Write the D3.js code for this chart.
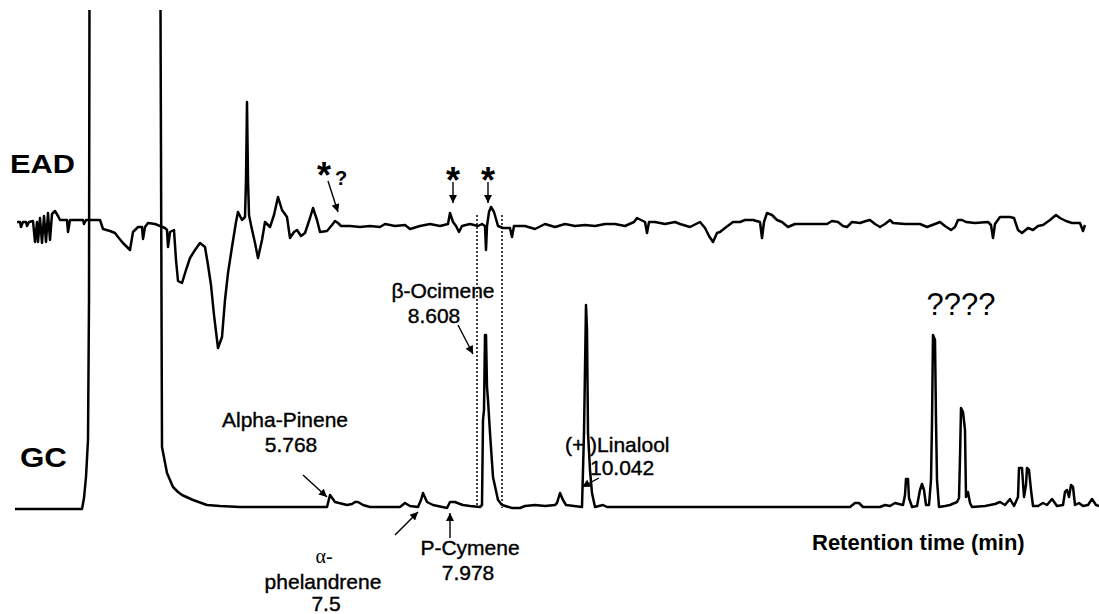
<!DOCTYPE html>
<html>
<head>
<meta charset="utf-8">
<script src="https://cdn.jsdelivr.net/npm/d3@7"></script>
<style>
  html, body { margin: 0; padding: 0; background: #fff; }
  svg { display: block; }
  text { font-family: "Liberation Sans", Arial, sans-serif; fill: #000; }
</style>
</head>
<body>
<svg id="chart" width="1099" height="614"></svg>
<script>
// EAD trace: time (s, arbitrary run offset) and antennal response (uV)
const eadTime = [5, 8, 9, 11, 14, 15, 17, 21, 23, 25, 26, 28, 30, 32, 34, 36, 38, 40, 43, 46, 48, 55, 56, 58, 71, 72, 74, 88, 91, 98, 103, 106, 111, 116, 118, 121, 126, 130, 131, 133, 136, 143, 148, 153, 155, 156, 158, 162, 164, 166, 170, 174, 178, 183, 188, 193, 196, 199, 202, 206, 210, 213, 216, 220, 224, 226, 230, 233, 234, 235, 236, 237, 239, 243, 246, 250, 253, 258, 262, 266, 270, 275, 278, 282, 285, 289, 293, 298, 301, 305, 308, 315, 320, 323, 326, 329, 338, 348, 358, 368, 373, 383, 393, 398, 408, 418, 428, 436, 438, 441, 444, 447, 450, 458, 466, 470, 473, 474, 475, 477, 479, 482, 486, 491, 498, 500, 502, 513, 523, 533, 543, 553, 563, 573, 583, 593, 603, 613, 622, 625, 629, 633, 635, 637, 643, 653, 663, 668, 678, 688, 693, 697, 701, 705, 708, 713, 721, 728, 733, 741, 748, 750, 752, 755, 760, 765, 770, 776, 783, 795, 803, 815, 820, 826, 831, 835, 840, 848, 854, 858, 863, 868, 873, 878, 881, 893, 908, 915, 923, 928, 933, 939, 943, 946, 950, 954, 963, 976, 979, 981, 983, 988, 998, 1002, 1006, 1010, 1016, 1021, 1026, 1031, 1038, 1044, 1048, 1054, 1060, 1068, 1071, 1073];
const eadSignal = [20, 20, -30, 20, 20, -20, 20, 30, -180, 20, -180, 60, -190, 80, -180, 110, -160, 100, 130, 80, 40, 40, -80, 40, 40, 0, 40, 40, -50, -70, -90, -130, -190, -240, -260, -80, -30, -30, -150, -30, 10, 0, -20, -40, -60, -230, -80, -60, -360, -570, -590, -460, -340, -260, -190, -230, -410, -610, -910, -1240, -1130, -760, -490, -230, 20, 120, 40, 70, 440, 1220, 440, 90, -10, -190, -340, -160, 20, -30, 90, 270, 140, 70, -140, -80, -60, -120, -90, 60, 160, 40, -80, -70, -10, 30, 10, -20, -20, -30, -20, -30, 0, -20, -10, -50, -20, 0, -20, 0, 110, 20, -20, -80, -20, 0, -20, 0, -20, -260, -20, 120, 170, 120, -20, -40, -40, -130, -20, -20, -50, 0, -30, 0, -20, -10, -20, 0, 0, -20, 20, 60, 40, 20, -90, 20, 20, 0, 20, 0, -30, 20, -40, -120, -180, -90, -80, -40, 20, 20, 40, 40, 20, -140, 20, 110, 90, 40, 20, -30, 0, 0, 0, 0, 30, 20, -20, -30, 20, 10, 30, 40, 0, -30, 0, 40, 10, 0, 0, -30, 0, 20, -20, -60, -30, 40, 40, 20, 10, 20, -10, -140, 0, 70, 70, 60, -60, -90, -40, -60, -20, -10, 40, 90, 60, 30, 10, 10, -70, -10];

// GC (FID) trace: time (s) and detector signal (arbitrary units)
const gcTime = [3, 70, 72, 74, 76, 77, 77.5, 78, 148, 148.5, 150, 155, 158, 161, 166, 170, 181, 195, 208, 228, 315, 318, 323, 335, 340, 343, 346, 351, 358, 388, 393, 398, 406, 409, 411, 415, 421, 435, 438, 443, 448, 451, 458, 468, 470, 471, 472, 473, 474, 475, 476, 478, 481, 486, 490, 500, 508, 513, 523, 533, 543, 545, 548, 551, 554, 570, 572, 574, 575, 576, 578, 580, 583, 591, 595, 838, 843, 847, 851, 868, 873, 878, 883, 891, 893, 894, 896, 897, 900, 905, 908, 910, 912, 914, 917, 919, 920, 921, 923, 924, 925, 927, 933, 938, 945, 947, 948, 949, 951, 953, 954, 956, 958, 960, 973, 983, 988, 993, 998, 1002, 1006, 1007, 1010, 1012, 1014, 1015, 1017, 1019, 1021, 1026, 1031, 1035, 1040, 1045, 1051, 1053, 1055, 1057, 1059, 1061, 1063, 1067, 1071, 1076, 1080, 1084, 1087];
const gcSignal = [0, 0, 11, 32, 69, 209, 520, 700, 700, 499, 62, 36, 29, 22, 17, 14, 9, 4, 3, 2, 2, 14, 7, 4, 5, 7, 7, 4, 2, 2, 6, 3, 2, 9, 16, 7, 4, 1, 7, 7, 5, 4, 3, 2, 4, 89, 99, 174, 174, 122, 109, 76, 32, 9, 4, 1, 1, 3, 4, 3, 4, 6, 16, 9, 4, 2, 76, 204, 179, 76, 39, 16, 2, 4, 2, 2, 6, 6, 2, 2, 4, 3, 6, 4, 14, 30, 30, 11, 2, 3, 19, 25, 19, 4, 4, 29, 86, 174, 169, 89, 29, 2, 3, 4, 7, 11, 51, 101, 97, 79, 12, 17, 6, 2, 3, 5, 7, 4, 10, 3, 12, 41, 41, 12, 24, 41, 39, 19, 3, 3, 6, 4, 10, 3, 4, 17, 19, 12, 24, 22, 4, 6, 3, 4, 10, 4, 3];

// Identified compounds (label text) and the EAD-active window
const compoundNames = ['Alpha-Pinene', 'phelandrene', 'P-Cymene', 'β-Ocimene', '(+ )Linalool'];
const compoundRT = ['5.768', '7.5', '7.978', '8.608', '10.042'];
const ocimeneWindow = [465, 490];
const eadMarkTime = [326, 441, 476];
const eadMarkText = ['*', '*', '*'];

const W = 1099, H = 614;
const svg = d3.select('#chart');
svg.append('rect').attr('width', W).attr('height', H).attr('fill', '#fff');

const x = d3.scaleLinear().domain([0, 1087]).range([12, 1099]);
const yEad = d3.scaleLinear().domain([-2000, 2000]).range([424, 24]);
const yGc = d3.scaleLinear().domain([0, 500]).range([509, 9]);

const defs = svg.append('defs');
defs.append('clipPath').attr('id', 'plotClip')
  .append('rect').attr('x', 0).attr('y', 10).attr('width', W).attr('height', H - 10);
defs.append('marker')
  .attr('id', 'head')
  .attr('viewBox', '0 0 10 10')
  .attr('refX', 10).attr('refY', 5)
  .attr('markerWidth', 9).attr('markerHeight', 8)
  .attr('markerUnits', 'userSpaceOnUse')
  .attr('orient', 'auto')
  .append('path').attr('d', 'M0,0L10,5L0,10Z').attr('fill', '#000');

// traces
const eadLine = d3.line().x((d, i) => x(eadTime[i])).y(d => yEad(d));
const gcLine = d3.line().x((d, i) => x(gcTime[i])).y(d => yGc(d));

const traces = svg.append('g').attr('clip-path', 'url(#plotClip)')
  .attr('fill', 'none').attr('stroke', '#000')
  .attr('stroke-width', 2.5).attr('stroke-linejoin', 'round');
traces.append('path').attr('d', gcLine(gcSignal));
traces.append('path').attr('d', eadLine(eadSignal));

// dotted window around beta-ocimene
svg.append('g').selectAll('line').data(ocimeneWindow).join('line')
  .attr('x1', d => x(d)).attr('x2', d => x(d))
  .attr('y1', 215).attr('y2', 508)
  .attr('stroke', '#000').attr('stroke-width', 1.5)
  .attr('stroke-dasharray', '2,2');

// trace titles
svg.append('text').attr('x', 10).attr('y', 173)
  .attr('font-size', 25).attr('font-weight', 'bold')
  .attr('textLength', 65).attr('lengthAdjust', 'spacingAndGlyphs')
  .text('EAD');
svg.append('text').attr('x', 20).attr('y', 467)
  .attr('font-size', 28).attr('font-weight', 'bold')
  .attr('textLength', 47).attr('lengthAdjust', 'spacingAndGlyphs')
  .text('GC');

// EAD response markers
const marks = svg.append('g');
marks.selectAll('text').data(eadMarkText).join('text')
  .attr('x', (d, i) => x(eadMarkTime[i]) - (i === 0 ? 14 : 0))
  .attr('y', (d, i) => i === 0 ? 188 : 193)
  .attr('text-anchor', 'middle')
  .attr('font-size', 36).attr('font-weight', 'bold')
  .text(d => d);
marks.append('text').attr('x', 341).attr('y', 185)
  .attr('text-anchor', 'middle')
  .attr('font-size', 20).attr('font-weight', 'bold')
  .text('?');

const arrows = [
  [328, 181, x(eadMarkTime[0]), 212],
  [x(eadMarkTime[1]), 182, x(eadMarkTime[1]), 203],
  [x(eadMarkTime[2]), 182, x(eadMarkTime[2]), 203],
  [458, 325, 473, 354],
  [303, 475, 327, 497],
  [395, 535, 418, 512],
  [x(438), 538, x(438), 513],
  [599, 478, 582, 487]
];
svg.append('g').selectAll('line').data(arrows).join('line')
  .attr('x1', d => d[0]).attr('y1', d => d[1])
  .attr('x2', d => d[2]).attr('y2', d => d[3])
  .attr('stroke', '#000').attr('stroke-width', 1.4)
  .attr('marker-end', 'url(#head)');

// compound labels
const labelPos = [
  { x: 285, y: 427, rx: 291, ry: 452, anchor: 'middle' },
  { x: 323, y: 589, rx: 326, ry: 611, anchor: 'middle' },
  { x: 470, y: 555, rx: 468, ry: 580, anchor: 'middle' },
  { x: 443, y: 298, rx: 434, ry: 323, anchor: 'middle' },
  { x: 565, y: 452, rx: 590, ry: 475, anchor: 'start' }
];
const labels = svg.append('g').attr('font-size', 21)
  .attr('stroke', '#000').attr('stroke-width', 0.4);
labels.selectAll('text.name').data(compoundNames).join('text')
  .attr('class', 'name')
  .attr('x', (d, i) => labelPos[i].x).attr('y', (d, i) => labelPos[i].y)
  .attr('text-anchor', (d, i) => labelPos[i].anchor)
  .text(d => d);
labels.selectAll('text.rt').data(compoundRT).join('text')
  .attr('class', 'rt')
  .attr('x', (d, i) => labelPos[i].rx).attr('y', (d, i) => labelPos[i].ry)
  .attr('text-anchor', (d, i) => labelPos[i].anchor)
  .text(d => d);
svg.append('text').attr('x', 324).attr('y', 563)
  .attr('text-anchor', 'middle')
  .style('font-family', '"Liberation Serif", "DejaVu Serif", serif')
  .attr('font-size', 20)
  .text('α-');

svg.append('text').attr('x', 961).attr('y', 315)
  .attr('text-anchor', 'middle').attr('font-size', 31)
  .text('????');

svg.append('text').attr('x', 812).attr('y', 550)
  .attr('font-size', 22).attr('font-weight', 'bold')
  .text('Retention time (min)');
</script>
</body>
</html>
